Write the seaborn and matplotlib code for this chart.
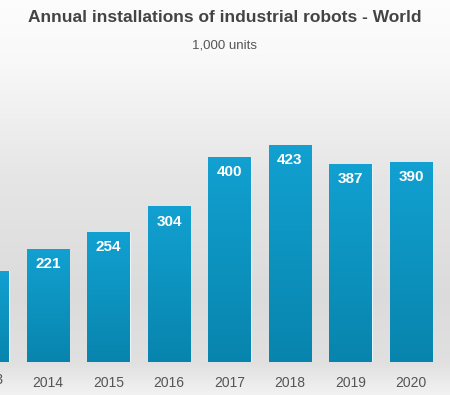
import numpy as np
import pandas as pd
import matplotlib
matplotlib.use("Agg")
import matplotlib.pyplot as plt
import seaborn as sns

# data (1,000 units)
years = ["2013", "2014", "2015", "2016", "2017", "2018", "2019", "2020"]
installs = [178, 221, 254, 304, 400, 423, 387, 390]

df = pd.DataFrame({"year": years, "units": installs})

sns.set_theme(style="white")
plt.rcParams['font.family'] = ['Liberation Sans', 'DejaVu Sans']

fig = plt.figure(figsize=(4.5, 3.95), dpi=100)

# background gradient (white at top -> light gray, lighter again below the bars)
bg = fig.add_axes([0, 0, 1, 1], zorder=0)
grad = np.linspace(0, 1, 395).reshape(-1, 1)
cols = np.interp(grad, [0, 0.15, 0.45, 0.75, 0.92, 1.0],
                 [0.99, 0.975, 0.90, 0.86, 0.88, 0.95])
bg.imshow(np.dstack([cols, cols, cols]), aspect="auto", extent=[0, 1, 0, 1], origin="upper")
bg.set_axis_off()

ax = fig.add_axes([0, 33 / 395, 1, 302 / 395], zorder=1)
ax.patch.set_alpha(0)
sns.barplot(data=df, x="year", y="units", color="#0b95c5", width=0.7,
            saturation=1, edgecolor="#e8f4fa", linewidth=0.8, ax=ax)

ax.set_xlim(0.207, 7.645)
ax.set_ylim(0, 589)

# vertical blue gradient inside each bar
top_c = np.array([0.07, 0.63, 0.82])
bot_c = np.array([0.03, 0.52, 0.68])
for p in ax.patches:
    x0, w, h = p.get_x(), p.get_width(), p.get_height()
    t = np.linspace(0, 1, 100).reshape(-1, 1, 1)
    img = top_c * (1 - t) + bot_c * t
    im = ax.imshow(img, extent=[x0, x0 + w, 0, h], aspect="auto",
                   origin="upper", zorder=p.get_zorder() + 0.1)
    im.set_clip_path(p)

ax.set_xlim(0.207, 7.645)
ax.set_ylim(0, 589)

lo, hi = ax.get_xlim()
for i, v in enumerate(installs):
    if lo < i < hi:
        ax.text(i, v - 30, str(v), ha="center", va="center", color="white",
                fontsize=11, fontweight="bold", zorder=5)

ax.set_yticks([])
ax.set_xlabel("")
ax.set_ylabel("")
ax.tick_params(axis="x", length=0, pad=10, labelsize=10, colors="#555555")
# first year's label is partly cut by the left edge, as in the source image
ax.text(0, -35, years[0], ha="center", va="center", fontsize=10,
        color="#555555", clip_on=False)
sns.despine(ax=ax, left=True, bottom=True)

fig.text(0.5, 1 - 18 / 395, "Annual installations of industrial robots - World",
         ha="center", va="center", fontsize=12.5, fontweight="bold", color="#444444")
fig.text(0.5, 1 - 45 / 395, "1,000 units", ha="center", va="center",
         fontsize=9.5, color="#555555")

fig.savefig("out.png", dpi=100)
